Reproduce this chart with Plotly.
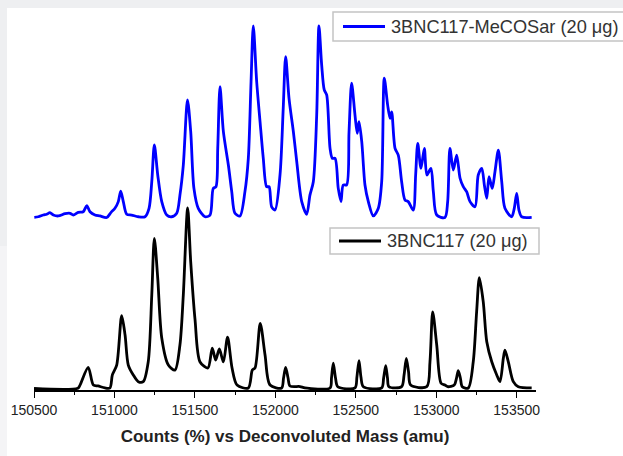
import plotly.graph_objects as go

# ---- data (mass in amu, relative counts in %) ----
black_mass = [150500, 150773, 150786, 150837, 150869, 150898, 150941, 150972, 150987, 151014,
              151045, 151066, 151086, 151117, 151148, 151179, 151210, 151232, 151248, 151269,
              151294, 151335, 151376, 151407, 151428, 151455, 151474, 151501, 151532, 151581,
              151608, 151629, 151652, 151677, 151703, 151731, 151762, 151832, 151857, 151874,
              151906, 151936, 151967, 152039, 152051, 152064, 152079, 152091, 152153, 152184,
              152340, 152349, 152360, 152374, 152388, 152495, 152507, 152520, 152532, 152547,
              152661, 152673, 152686, 152697, 152706, 152785, 152800, 152814, 152828, 152841,
              152941, 152961, 152978, 153003, 153030, 153054, 153071, 153112, 153126, 153137,
              153150, 153162, 153199, 153230, 153251, 153268, 153292, 153314, 153345, 153376,
              153396, 153417, 153427, 153448, 153479, 153510, 153593]
black_counts = [0, 0.2, 1.9, 11.7, 1.9, 1.4, 0.3, 0.3, 7.5, 13,
                40.3, 29.6, 13, 7.5, 3.8, 3.8, 14.8, 51.8, 83.2, 61.2,
                28, 13, 10.2, 24.1, 51.8, 100, 70.2, 38, 14.7, 11.4,
                22.4, 15.8, 21.9, 14.7, 28.5, 11.4, 1.9, 0.3, 10.2, 11.4,
                36.1, 18.6, 1.9, 0.3, 5.8, 11.7, 5.8, 1.4, 1.1, 0.3,
                0.3, 5.8, 14, 5.8, 1, 0.3, 6.4, 15.4, 6.4, 1,
                0.3, 5.8, 12.6, 5.8, 1, 1, 7.5, 16.7, 9.1, 1.9,
                1, 14.8, 42.5, 24.1, 2.9, 1.9, 1, 1.9, 5.8, 9.9,
                5.8, 1, 0.3, 14.8, 42.5, 61.4, 48.1, 25.9, 14.8, 7.5,
                3.8, 16.7, 21.3, 14.8, 3.8, 1, 0.3]

blue_mass = [150502, 150527, 150558, 150579, 150599, 150620, 150651, 150693, 150724, 150744,
             150775, 150806, 150828, 150848, 150879, 150910, 150952, 150979, 151003, 151024,
             151039, 151055, 151076, 151107, 151148, 151190, 151215, 151232, 151248, 151269,
             151294, 151325, 151356, 151387, 151407, 151428, 151454, 151474, 151494, 151521,
             151563, 151594, 151614, 151631, 151642, 151656, 151677, 151708, 151729, 151749,
             151780, 151811, 151832, 151849, 151863, 151884, 151905, 151925, 151946, 151961,
             151977, 151998, 152029, 152049, 152064, 152085, 152112, 152133, 152164, 152195,
             152215, 152236, 152257, 152271, 152288, 152304, 152319, 152340, 152354, 152371,
             152391, 152408, 152422, 152443, 152458, 152474, 152495, 152509, 152520, 152537,
             152557, 152578, 152609, 152640, 152661, 152677, 152698, 152713, 152723, 152744,
             152764, 152785, 152806, 152826, 152857, 152872, 152885, 152905, 152926, 152942,
             152967, 152982, 153003, 153054, 153071, 153085, 153106, 153127, 153148, 153168,
             153189, 153210, 153241, 153261, 153283, 153299, 153314, 153328, 153348, 153365,
             153386, 153407, 153427, 153469, 153485, 153500, 153514, 153531, 153593]
blue_counts = [0.1, 0.4, 1.3, 1.7, 2.5, 1.3, 0.8, 2.0, 2.2, 1.3,
               2.7, 3.0, 6.2, 3.0, 1.3, 0.8, 0, 2.7, 4.8, 8.3,
               13.8, 8.3, 1.7, 1.3, 0.4, 0.4, 4.8, 18.7, 37.9, 22.2,
               8.3, 1.3, 0.4, 2.2, 11.7, 27.4, 61.4, 44.8, 15.2, 4.8,
               0.4, 1.3, 15.2, 16.1, 36.1, 68.3, 44.8, 27.4, 13.5, 2.2,
               0.8, 13.5, 30.9, 70.9, 100, 70.9, 50, 30.9, 16.1, 16.1,
               5.6, 3.9, 22.2, 57, 84, 62.2, 44.8, 29.1, 8.3, 1.7,
               11.7, 18.7, 53.5, 100, 79.6, 66.6, 64, 36.1, 30.9, 30.9,
               15.2, 8.3, 17, 17, 44.8, 70.1, 53.5, 44, 50, 39.6,
               17, 8.3, 0.8, 4.8, 18.7, 72.8, 58.7, 51.8, 55.2, 36.1,
               32.6, 18.7, 9.1, 8.3, 3.9, 22.2, 38.7, 25.7, 36.1, 22.2,
               25.7, 13.5, 1.3, 0, 8.3, 36.1, 24.8, 32.6, 20.5, 16.1,
               13.5, 8.3, 5.6, 22.2, 25.7, 17, 10, 21.3, 15.2, 23.9,
               35.2, 18.7, 4.8, 0.4, 4.8, 12.6, 3.9, 0.4, 0.1]

series_names = ["3BNC117-MeCOSar (20 \u03bcg)", "3BNC117 (20 \u03bcg)"]
series_colors = ["#0000ff", "#000000"]
x_ticks = [150500, 151000, 151500, 152000, 152500, 153000, 153500]
x_title = "<b>Counts (%) vs Deconvoluted Mass (amu)</b>"

FONT = "Liberation Sans, Arial, sans-serif"

# ---- layout geometry (pixels) ----
W, H = 623, 456
ML, MR, MT, MB = 34, 87, 10, 66
PW, PH = W - ML - MR, H - MT - MB


def px_x(p):
    return (p - ML) / PW


def px_y(p):
    return (H - MB - p) / PH


fig = go.Figure()
fig.add_trace(go.Scatter(x=blue_mass, y=blue_counts, mode="lines", name=series_names[0],
                         line=dict(color=series_colors[0], width=2.8, shape="spline", smoothing=0.8),
                         yaxis="y2", showlegend=False))
fig.add_trace(go.Scatter(x=black_mass, y=black_counts, mode="lines", name=series_names[1],
                         line=dict(color=series_colors[1], width=2.8, shape="spline", smoothing=0.8),
                         yaxis="y", showlegend=False))

shapes = [
    dict(type="rect", xref="paper", yref="paper", x0=px_x(0), x1=px_x(W), y0=px_y(8), y1=px_y(0),
         fillcolor="#eeeff1", line=dict(width=0), layer="below"),
    dict(type="rect", xref="paper", yref="paper", x0=px_x(0), x1=px_x(7), y0=px_y(246), y1=px_y(8),
         fillcolor="#eeeff1", line=dict(width=0), layer="below"),
    dict(type="rect", xref="paper", yref="paper", x0=px_x(0), x1=px_x(7), y0=px_y(H), y1=px_y(246),
         fillcolor="#f4f4f6", line=dict(width=0), layer="below"),
]

# legend boxes: (left, top, right, bottom, line x0, line x1, text x)
legend_boxes = [(333, 12, 640, 41, 343, 385, 389),
                (330, 228, 539, 254, 339, 381, 385)]
annotations = []
for (l, t, r, b, lx0, lx1, tx), name, col in zip(legend_boxes, series_names, series_colors):
    shapes.append(dict(type="rect", xref="paper", yref="paper",
                       x0=px_x(l), x1=px_x(r), y0=px_y(b), y1=px_y(t),
                       fillcolor="#ffffff", line=dict(color="#c4c4c4", width=1.5), layer="above"))
    ym = (t + b) / 2
    shapes.append(dict(type="line", xref="paper", yref="paper",
                       x0=px_x(lx0), x1=px_x(lx1), y0=px_y(ym), y1=px_y(ym),
                       line=dict(color=col, width=3), layer="above"))
    annotations.append(dict(xref="paper", yref="paper", x=px_x(tx), y=px_y(ym + 0.5),
                            xanchor="left", yanchor="middle", showarrow=False, text=name,
                            font=dict(family=FONT, size=18.2, color="#333333")))

fig.update_layout(
    width=W, height=H,
    margin=dict(l=ML, r=MR, t=MT, b=MB, pad=0),
    paper_bgcolor="#ffffff", plot_bgcolor="#ffffff",
    showlegend=False,
    shapes=shapes,
    annotations=annotations,
    xaxis=dict(range=[150500, 153620], tickmode="array", tickvals=x_ticks,
               ticktext=[str(v) for v in x_ticks],
               showgrid=False, zeroline=False, showline=True, linecolor="#000000", linewidth=1.5,
               ticks="outside", ticklen=6, tickwidth=1.3, tickcolor="#000000",
               minor=dict(dtick=250, tick0=150500, ticks="outside", ticklen=3, tickwidth=1.2,
                          tickcolor="#000000", showgrid=False),
               tickfont=dict(family=FONT, size=14, color="#222222"),
               title=dict(text=x_title, standoff=14,
                          font=dict(family=FONT, size=17, color="#222222"))),
    yaxis=dict(range=[-0.83, 209.7], visible=False, fixedrange=True),
    yaxis2=dict(range=[-90.08, 108.36], visible=False, overlaying="y", fixedrange=True),
)

fig.write_html("out.html")
